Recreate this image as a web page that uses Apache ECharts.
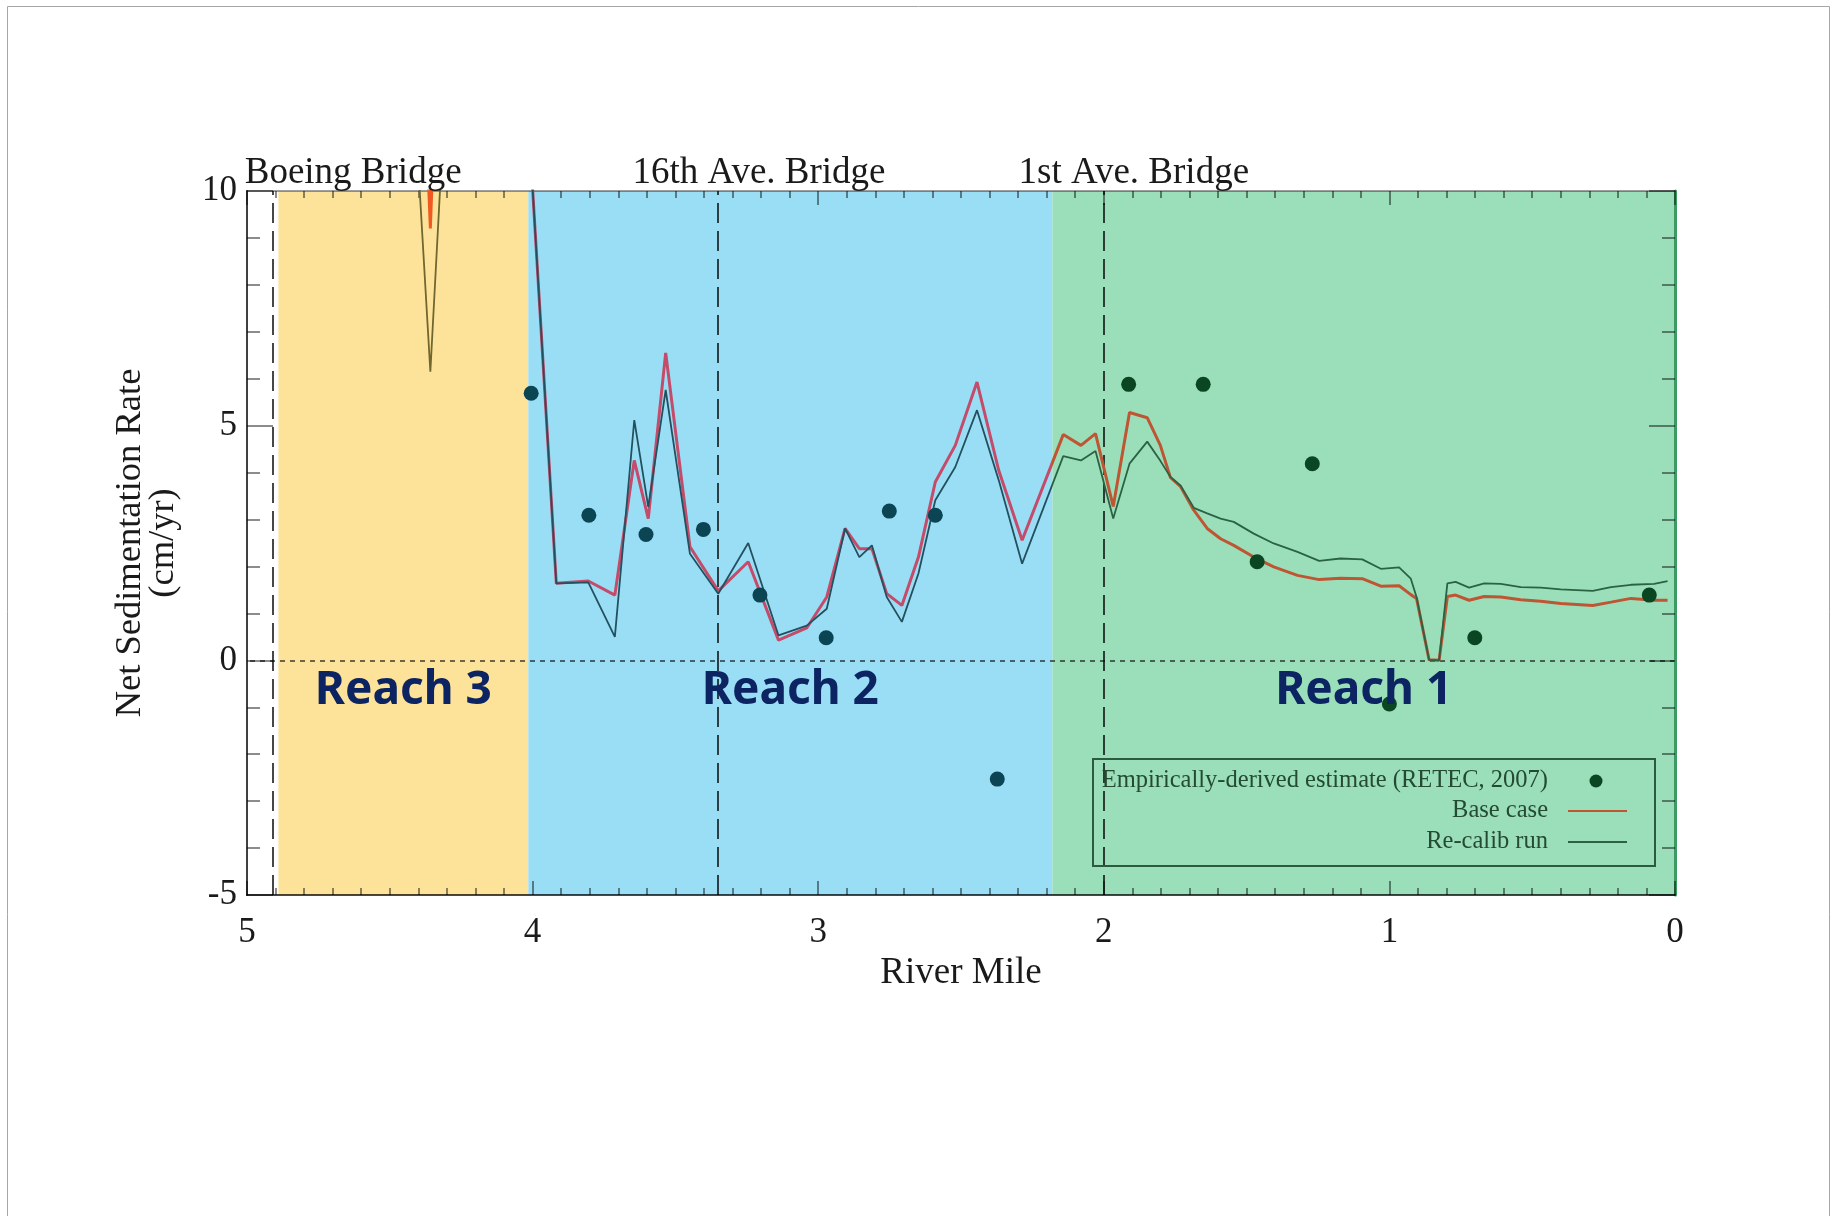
<!DOCTYPE html>
<html>
<head>
<meta charset="utf-8">
<title>Net Sedimentation Rate by River Mile</title>
<script src="https://cdn.jsdelivr.net/npm/echarts@6/dist/echarts.min.js"></script>
<style>
html, body { margin: 0; padding: 0; background: #ffffff; }
#chart { width: 1839px; height: 1216px; }
</style>
</head>
<body>
<div id="chart"></div>
<script>
// ---- data ---------------------------------------------------------------
// River-mile grid of the model output, shared by both model runs
const modelMiles = [
  4.88, 4.80, 4.70, 4.60, 4.50, 4.40, 4.358, 4.32, 4.25, 4.15, 4.05,
  4.00, 3.917, 3.805, 3.712, 3.644, 3.595, 3.534, 3.449, 3.350, 3.245,
  3.139, 3.040, 2.970, 2.906, 2.856, 2.812, 2.760, 2.707, 2.649, 2.590,
  2.520, 2.444, 2.368, 2.286, 2.142, 2.080, 2.029, 1.967, 1.910, 1.848,
  1.802, 1.767, 1.731, 1.685, 1.638, 1.591, 1.545, 1.475, 1.405, 1.322,
  1.246, 1.171, 1.095, 1.030, 0.966, 0.925, 0.905, 0.861, 0.826, 0.797,
  0.768, 0.721, 0.668, 0.610, 0.540, 0.470, 0.400, 0.288, 0.224, 0.154,
  0.073, 0.026
];
// Base case net sedimentation rate (cm/yr)
const baseCase = [
  15.2, 16.0, 14.6, 15.1, 14.8, 15.6, 9.2, 15.6, 14.9, 15.8, 14.5,
  10.05, 1.64, 1.69, 1.39, 4.26, 3.02, 6.55, 2.42, 1.48, 2.10,
  0.43, 0.69, 1.35, 2.81, 2.38, 2.38, 1.42, 1.17, 2.20, 3.80,
  4.58, 5.93, 4.05, 2.56, 4.81, 4.58, 4.83, 3.28, 5.28, 5.17,
  4.58, 3.90, 3.70, 3.20, 2.81, 2.59, 2.45, 2.20, 1.99, 1.81,
  1.72, 1.75, 1.74, 1.58, 1.59, 1.40, 1.32, 0.01, 0.00, 1.36,
  1.39, 1.28, 1.36, 1.35, 1.29, 1.26, 1.21, 1.17, 1.24, 1.32,
  1.28, 1.28
];
// Re-calibrated run (cm/yr)
const recalibRun = [
  12.5, 13.1, 11.8, 12.4, 11.6, 10.5, 6.15, 10.5, 12.2, 13.0, 12.0,
  10.05, 1.64, 1.66, 0.50, 5.12, 3.27, 5.76, 2.27, 1.42, 2.50,
  0.53, 0.74, 1.10, 2.81, 2.20, 2.45, 1.35, 0.82, 1.85, 3.41,
  4.12, 5.33, 3.84, 2.06, 4.35, 4.26, 4.46, 3.02, 4.19, 4.66,
  4.25, 3.91, 3.72, 3.25, 3.13, 3.02, 2.95, 2.70, 2.49, 2.31,
  2.12, 2.17, 2.15, 1.95, 1.98, 1.74, 1.35, 0.01, 0.00, 1.64,
  1.67, 1.55, 1.64, 1.63, 1.56, 1.55, 1.51, 1.48, 1.56, 1.61,
  1.63, 1.69
];
// Empirically-derived estimates (RETEC, 2007)
const estimateMiles = [4.005, 3.803, 3.603, 3.402, 3.204, 2.972, 2.751, 2.590,
                       2.373, 1.913, 1.652, 1.463, 1.270, 1.000, 0.701, 0.090];
const estimateRates = [5.69, 3.09, 2.68, 2.79, 1.39, 0.48, 3.18, 3.09,
                       -2.53, 5.88, 5.88, 2.10, 4.19, -0.93, 0.48, 1.39];

// Reaches (upstream / downstream river mile)
const reachNames = ['Reach 3', 'Reach 2', 'Reach 1'];
const reachUpstream = [4.89, 4.015, 2.18];
const reachDownstream = [4.015, 2.18, 0];

// Bridges
const bridgeNames = ['Boeing Bridge', '16th Ave. Bridge', '1st Ave. Bridge'];
const bridgeMiles = [4.905, 3.351, 2.0];

// Axis ranges and tick steps
const mileRange = [0, 5];
const mileStep = 1;
const rateRange = [-5, 10];
const rateStep = 5;

// ---- styling ------------------------------------------------------------
const SERIF = '"Liberation Serif", "Times New Roman", serif';
const reachFill = ['#FDE39A', '#9ADEF6', '#9ADFBA'];
// colours per stretch: [upstream of Reach 3, Reach 3, Reach 2, Reach 1]
const baseColors = ['#333333', '#F05A22', '#C44B69', '#BE5634'];
const recalColors = ['#333333', '#6F6630', '#22505F', '#2A6243'];
const dotColors = ['#333333', '#4B4A20', '#0B4453', '#0A4621'];
const bridgeLabelShift = [79, 41, 30];

function stretchIndex(mile) {
  for (let i = 0; i < reachNames.length; i++) {
    if (mile <= reachUpstream[i] && mile > reachDownstream[i]) return i + 1;
  }
  if (mile <= reachDownstream[reachDownstream.length - 1]) return reachNames.length;
  return 0;
}

function stretchPieces(colors) {
  const pieces = [{ gt: reachUpstream[0], lte: mileRange[1], color: colors[0] }];
  for (let i = 0; i < reachNames.length; i++) {
    const p = { lte: reachUpstream[i], color: colors[i + 1] };
    if (i === reachNames.length - 1) p.gte = reachDownstream[i] - 1;
    else p.gt = reachDownstream[i];
    pieces.push(p);
  }
  return pieces;
}

const baseData = modelMiles.map((m, i) => [m, baseCase[i]]);
const recalData = modelMiles.map((m, i) => [m, recalibRun[i]]);
const estimateData = estimateMiles.map((m, i) => [m, estimateRates[i]]);

const tickStyle = { color: 'rgba(0,0,0,0.6)', width: 1.5 };

const chart = echarts.init(document.getElementById('chart'), null, { renderer: 'canvas' });

const option = {
  animation: false,
  backgroundColor: '#ffffff',
  grid: { left: 247, right: 164, top: 191, bottom: 321, containLabel: false },
  xAxis: [
    {
      type: 'value', position: 'bottom', inverse: true,
      min: mileRange[0], max: mileRange[1], interval: mileStep,
      z: 2,
      name: 'River Mile', nameLocation: 'middle', nameGap: 57,
      nameTextStyle: { fontFamily: SERIF, fontSize: 37, color: '#1a1a1a' },
      axisLine: { show: true, onZero: false, lineStyle: { color: 'rgba(0,0,0,0.72)', width: 2 } },
      axisTick: { show: true, inside: true, length: 14, lineStyle: tickStyle },
      minorTick: { show: true, splitNumber: 10, length: 7, lineStyle: tickStyle },
      axisLabel: { fontFamily: SERIF, fontSize: 35, color: '#1a1a1a', margin: 20 },
      splitLine: { show: false }
    },
    {
      type: 'value', position: 'top', inverse: true,
      min: mileRange[0], max: mileRange[1], interval: mileStep,
      z: 2,
      axisLine: { show: true, onZero: false, lineStyle: { color: 'rgba(0,0,0,0.38)', width: 2 } },
      axisTick: { show: true, inside: true, length: 14, lineStyle: tickStyle },
      minorTick: { show: true, splitNumber: 10, length: 7, lineStyle: tickStyle },
      axisLabel: { show: false },
      splitLine: { show: false }
    }
  ],
  yAxis: [
    {
      type: 'value', position: 'left',
      min: rateRange[0], max: rateRange[1], interval: rateStep,
      z: 2,
      name: 'Net Sedimentation Rate\n(cm/yr)', nameLocation: 'middle', nameRotate: 90, nameGap: 67,
      nameTextStyle: { fontFamily: SERIF, fontSize: 36.5, lineHeight: 33, color: '#1a1a1a', align: 'center' },
      axisLine: { show: true, onZero: false, lineStyle: { color: 'rgba(0,0,0,0.75)', width: 2 } },
      axisTick: { show: true, inside: true, length: 26, lineStyle: tickStyle },
      minorTick: { show: true, splitNumber: 5, length: 13, lineStyle: tickStyle },
      axisLabel: { fontFamily: SERIF, fontSize: 35, color: '#1a1a1a', margin: 10 },
      splitLine: { show: false }
    },
    {
      type: 'value', position: 'right',
      min: rateRange[0], max: rateRange[1], interval: rateStep,
      z: 2,
      axisLine: { show: true, onZero: false, lineStyle: { color: '#3C9B62', width: 3 } },
      axisTick: { show: true, inside: true, length: 26, lineStyle: tickStyle },
      minorTick: { show: true, splitNumber: 5, length: 13, lineStyle: tickStyle },
      axisLabel: { show: false },
      splitLine: { show: false }
    }
  ],
  visualMap: [
    { type: 'piecewise', show: false, seriesIndex: 1, dimension: 0, pieces: stretchPieces(baseColors) },
    { type: 'piecewise', show: false, seriesIndex: 2, dimension: 0, pieces: stretchPieces(recalColors) }
  ],
  series: [
    {
      // reach shading, bridge locations and the zero line
      name: 'Reaches', type: 'line', data: [], silent: true, z: 1,
      markArea: {
        silent: true, z: 1,
        label: { show: false },
        data: reachNames.map((n, i) => [
          { name: n, xAxis: reachUpstream[i], itemStyle: { color: reachFill[i] } },
          { xAxis: reachDownstream[i] }
        ])
      },
      markLine: {
        silent: true, z: 2, symbol: 'none',
        label: { show: false },
        data: [
          ...bridgeMiles.map(m => ({
            xAxis: m,
            lineStyle: { color: 'rgba(0,0,0,0.72)', width: 2, type: [20, 8] }
          })),
          { yAxis: 0, lineStyle: { color: 'rgba(0,0,0,0.75)', width: 1.5, type: [5, 5] } }
        ]
      }
    },
    {
      name: 'Base case', type: 'line', data: baseData, z: 3,
      symbol: 'none', smooth: false, clip: true,
      lineStyle: { width: 3 }
    },
    {
      name: 'Re-calib run', type: 'line', data: recalData, z: 3,
      symbol: 'none', smooth: false, clip: true,
      lineStyle: { width: 1.8 }
    },
    {
      name: 'Empirically-derived estimate (RETEC, 2007)', type: 'scatter', data: estimateData, z: 4,
      symbol: 'circle', symbolSize: 15,
      itemStyle: { color: p => dotColors[stretchIndex(p.value[0])], opacity: 1 }
    }
  ]
};

chart.setOption(option);

// ---- text overlays: bridge names, reach names, legend, page frame --------
const px = m => chart.convertToPixel({ xAxisIndex: 0 }, m);
const py = v => chart.convertToPixel({ yAxisIndex: 0 }, v);
const plotTop = py(rateRange[1]);

const graphics = [];

graphics.push({
  type: 'rect', z: 0, silent: true,
  shape: { x: 7.5, y: 6.5, width: 1822, height: 1230 },
  style: { fill: 'none', stroke: '#A6A6A6', lineWidth: 1 }
});

bridgeNames.forEach((name, i) => {
  graphics.push({
    type: 'text', z: 10, silent: true,
    x: px(bridgeMiles[i]) + bridgeLabelShift[i], y: plotTop + 1,
    style: {
      text: name, fontFamily: SERIF, fontSize: 37, fill: '#1a1a1a',
      align: 'center', verticalAlign: 'bottom'
    }
  });
});

reachNames.forEach((name, i) => {
  graphics.push({
    type: 'text', z: 10, silent: true,
    x: px((reachUpstream[i] + reachDownstream[i]) / 2), y: py(-0.66),
    style: {
      text: name, fontFamily: '"Noto Sans", "Open Sans", sans-serif', fontWeight: 'bold',
      fontSize: 46, fill: '#0C2461', align: 'center', verticalAlign: 'middle'
    }
  });
});

// legend box
const legendText = { fontFamily: SERIF, fontSize: 24.5, fill: '#244A32', align: 'right', verticalAlign: 'middle' };
graphics.push(
  { type: 'rect', z: 10, silent: true, shape: { x: 1093, y: 759, width: 562, height: 107 },
    style: { fill: 'none', stroke: '#2C5A3C', lineWidth: 2 } },
  { type: 'text', z: 10, silent: true, x: 1548, y: 781,
    style: Object.assign({ text: 'Empirically-derived estimate (RETEC, 2007)' }, legendText) },
  { type: 'circle', z: 10, silent: true, shape: { cx: 1596, cy: 781, r: 6.5 },
    style: { fill: dotColors[3] } },
  { type: 'text', z: 10, silent: true, x: 1548, y: 811,
    style: Object.assign({ text: 'Base case' }, legendText) },
  { type: 'line', z: 10, silent: true, shape: { x1: 1568, y1: 811, x2: 1627, y2: 811 },
    style: { stroke: baseColors[3], lineWidth: 2 } },
  { type: 'text', z: 10, silent: true, x: 1548, y: 842,
    style: Object.assign({ text: 'Re-calib run' }, legendText) },
  { type: 'line', z: 10, silent: true, shape: { x1: 1568, y1: 842, x2: 1627, y2: 842 },
    style: { stroke: recalColors[3], lineWidth: 2 } }
);

chart.setOption({ graphic: graphics });
</script>
</body>
</html>
